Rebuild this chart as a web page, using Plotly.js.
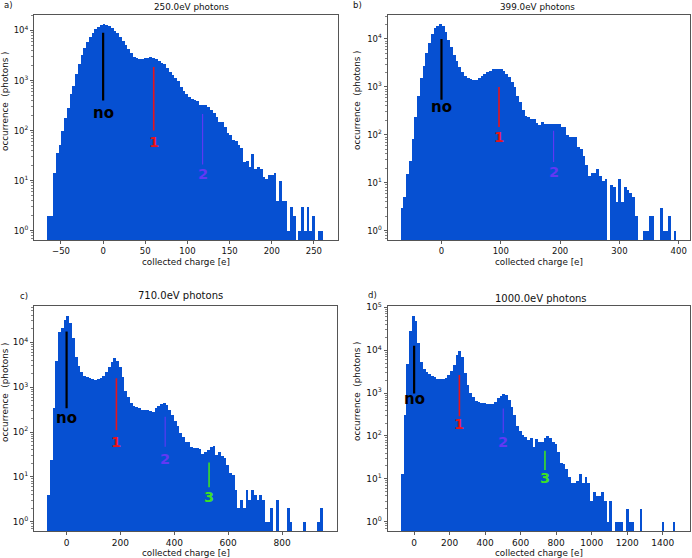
<!DOCTYPE html>
<html><head><meta charset="utf-8">
<script src="https://cdn.plot.ly/plotly-3.0.1.min.js"></script>
<style>html,body{margin:0;padding:0;background:#fff}#chart{width:692px;height:558px}</style>
</head><body><div id="chart"></div>
<script>
// ---------------- data ----------------
const titles = ["250.0eV photons", "399.0eV photons", "710.0eV photons", "1000.0eV photons"];
const panelLetters = ["a)", "b)", "c)", "d)"];
const xLabel = "collected charge [e]";
const yLabel = "occurrence\u00a0\u00a0(photons\u00a0)";

// histogram bins: first bin left edge and bin width (100 bins each)
const binStart = [-66, -69, -72, -75];
const binWidth = [3.27, 4.65, 10.23, 15.46];

const countsA = [2, 2, 14, 35, 52, 100, 178, 282, 540, 776,
  1350, 2140, 3240, 4570, 6030, 7590, 9120, 10700, 12000, 12900,
  13500, 12900, 12300, 11200, 10000, 8900, 7590, 6170, 5130, 4270,
  3630, 3020, 2820, 2690, 2690, 2820, 2880, 2950, 2880, 2690,
  2510, 2290, 2140, 1780, 1510, 1290, 1120, 1000, 760, 630,
  530, 468, 427, 407, 398, 324, 331, 331, 302, 257,
  229, 191, 151, 148, 120, 91, 81, 65, 62, 51,
  45, 24, 25, 19, 34, 17, 19, 17, 12, 11,
  13, 13, 14, 4, 10, 4, 4, 1, 3, 2,
  0, 1, 3, 1, 3, 1, 2, 0, 1, 1];

const countsB = [3, 5, 15, 29, 81, 234, 650, 1510, 2750, 5000,
  8130, 12900, 16600, 19000, 20400, 18200, 14100, 9550, 6760, 4680,
  3390, 2570, 2090, 1700, 1510, 1440, 1410, 1410, 1510, 1660,
  1860, 2040, 2190, 2340, 2340, 2400, 2340, 2190, 1860, 1580,
  1290, 1000, 650, 490, 331, 245, 234, 219, 209, 174,
  162, 182, 171, 168, 170, 169, 172, 170, 148, 145,
  98, 91, 91, 89, 57, 50, 36, 24, 14, 16,
  16, 19, 14, 11, 12, 0, 9, 8, 4, 12,
  4, 8, 7, 6, 5, 2, 0, 0, 1, 1,
  2, 2, 0, 0, 3, 1, 1, 2, 0, 1];

const countsC = [4, 24, 350, 3900, 17000, 21000, 31500, 39000, 27600, 12300,
  4800, 2950, 2220, 1790, 1660, 1590, 1490, 1480, 1490, 1590,
  1790, 2220, 2880, 3700, 4370, 3900, 2880, 1700, 830, 590,
  436, 380, 363, 339, 309, 309, 316, 295, 282, 339,
  380, 417, 447, 398, 309, 240, 180, 135, 93, 78,
  61, 61, 47, 45, 45, 41, 33, 36, 40, 47,
  49, 31, 35, 29, 26, 18, 12, 11, 5, 2,
  3, 2, 5, 3, 5, 4, 3, 4, 3, 1,
  1, 2, 0, 3, 0, 0, 0, 2, 1, 0,
  0, 0, 0, 1, 0, 0, 0, 0, 1, 2];

const countsD = [13, 300, 4800, 28000, 63000, 49000, 14400, 5400, 3700, 3100,
  2750, 2500, 2350, 2140, 2100, 2100, 2200, 2600, 3300, 4500,
  7700, 9500, 7000, 2900, 1550, 1030, 830, 660, 630, 600,
  575, 550, 545, 552, 630, 760, 870, 940, 910, 690,
  480, 300, 170, 132, 105, 96, 81, 88, 56, 83,
  73, 73, 90, 98, 90, 73, 65, 43, 23, 22,
  17, 11, 8, 8, 9, 13, 8, 11, 8, 3,
  5, 4, 4, 5, 3, 1, 3, 0, 1, 1,
  1, 0, 2, 1, 1, 0, 0, 2, 0, 0,
  0, 0, 0, 0, 0, 1, 0, 0, 0, 1];

const allCounts = [countsA, countsB, countsC, countsD];

// tick labels
const xTicks = [[-50, 0, 50, 100, 150, 200, 250], [0, 100, 200, 300, 400],
                [0, 200, 400, 600, 800], [0, 200, 400, 600, 800, 1000, 1200, 1400]];
const yDecades = [[0, 1, 2, 3, 4], [0, 1, 2, 3, 4], [0, 1, 2, 3, 4], [0, 1, 2, 3, 4, 5]];

// peak markers: label, position, line span, label height
const peakNames = ["no", "1", "2", "3"];
const peakX    = [[0, 60, 118], [0, 97, 189], [0, 185, 366, 529], [0, 255, 502, 737]];
const peakLo   = [[400, 100, 21], [537, 145, 27], [339, 110, 47, 5.9], [977, 288, 117, 16]];
const peakHi   = [[9000, 1860, 215], [10000, 1000, 122], [17400, 1580, 219, 21], [12600, 2630, 436, 45]];
const peakTxtY = [[224, 60, 13.5], [380, 91, 17], [204, 60, 24.5, 3.5], [708, 190, 71, 10.2]];

// ---------------- style / layout ----------------
const W = 692, H = 558;
const BAR = '#0650d2';
const peakColors = ['#000000', '#e8141a', '#6238f4', '#3ee026'];
const peakWidths = [2.2, 1.6, 1.1, 1.6];
const FONT = 'DejaVu Sans, sans-serif';

// plot boxes in pixels [left, right, top, bottom]
const boxes = [[34, 337.5, 14.5, 240], [387.5, 690, 14.5, 240],
               [34, 337, 306, 531], [387.5, 690, 306, 531]];
const xRanges = [[-82, 278], [-91, 419], [-121, 1004], [-150, 1554]];
const yRanges = [[-0.186, 4.32], [-0.194, 4.51], [-0.207, 4.81], [-0.217, 5.03]];
const titlePos = [[192, 6.5], [537, 6.5], [180, 295], [541, 298]];
const titleSize = [8.8, 8.8, 10, 10];
const letterPos = [[8, 5], [357, 5], [24, 296], [372, 295]];
const yLabelPos = [[5, 101], [357, 100], [5, 392], [357, 391]];
const xLabelY = [262, 262, 553, 553];
const tickSize = [8.5, 8.5, 9, 9];

const px = v => v / W;
const py = v => 1 - v / H;

const traces = [];
const annotations = [];
const layout = {
  width: W, height: H,
  margin: {l: 0, r: 0, t: 0, b: 0},
  paper_bgcolor: '#fff', plot_bgcolor: '#fff',
  showlegend: false,
  bargap: 0,
  font: {family: FONT, color: '#111'},
  annotations: annotations
};

for (let p = 0; p < 4; p++) {
  const sfx = p === 0 ? '' : String(p + 1);
  const xa = 'x' + sfx, ya = 'y' + sfx;
  const counts = allCounts[p];
  const centers = counts.map((_, i) => binStart[p] + binWidth[p] * (i + 0.5));
  traces.push({
    type: 'bar', x: centers, y: counts.map(c => c > 0 ? c : null),
    width: binWidth[p], xaxis: xa, yaxis: ya,
    marker: {color: BAR, line: {width: 0}}, hoverinfo: 'skip'
  });
  for (let k = 0; k < peakX[p].length; k++) {
    traces.push({
      type: 'scatter', mode: 'lines', x: [peakX[p][k], peakX[p][k]],
      y: [peakLo[p][k], peakHi[p][k]], xaxis: xa, yaxis: ya,
      line: {color: peakColors[k], width: peakWidths[k]}, hoverinfo: 'skip'
    });
    annotations.push({
      xref: xa, yref: ya, x: peakX[p][k], y: Math.log10(peakTxtY[p][k]),
      text: '<b>' + peakNames[k] + '</b>', showarrow: false,
      font: {family: FONT, size: k === 0 ? 15 : 14.5, color: peakColors[k]}
    });
  }
  const b = boxes[p];
  const minorVals = [];
  yDecades[p].forEach(d => { for (let m = 2; m <= 9; m++) { const v = m * Math.pow(10, d); if (Math.log10(v) < yRanges[p][1]) minorVals.push(v); } });
  minorVals.push(0.7, 0.8, 0.9);
  layout['xaxis' + sfx] = {
    domain: [px(b[0]), px(b[1])], anchor: ya, range: xRanges[p],
    tickmode: 'array', tickvals: xTicks[p],
    ticktext: xTicks[p].map(v => v < 0 ? '\u2212' + Math.abs(v) : String(v)),
    ticks: 'outside', ticklen: 3, tickwidth: 0.8, tickcolor: '#333',
    showline: true, linecolor: '#555', linewidth: 1, mirror: true,
    showgrid: false, zeroline: false,
    tickfont: {family: FONT, size: tickSize[p], color: '#111'}
  };
  layout['yaxis' + sfx] = {
    type: 'log', domain: [py(b[3]), py(b[2])], anchor: xa, range: yRanges[p],
    tickmode: 'array', tickvals: yDecades[p].map(d => Math.pow(10, d)),
    ticktext: yDecades[p].map(d => '10<sup>' + d + '</sup>'),
    ticks: 'outside', ticklen: 3, tickwidth: 0.8, tickcolor: '#333',
    minor: {tickmode: 'array', tickvals: minorVals, ticks: 'outside', ticklen: 1.8, tickwidth: 0.6, tickcolor: '#333', showgrid: false},
    showline: true, linecolor: '#555', linewidth: 1, mirror: true,
    showgrid: false, zeroline: false,
    tickfont: {family: FONT, size: tickSize[p], color: '#111'}
  };
  // title
  annotations.push({xref: 'paper', yref: 'paper', x: px(titlePos[p][0]), y: py(titlePos[p][1]),
    text: titles[p], showarrow: false, xanchor: 'center', yanchor: 'middle',
    font: {family: FONT, size: titleSize[p], color: '#111'}});
  // panel letter
  annotations.push({xref: 'paper', yref: 'paper', x: px(letterPos[p][0]), y: py(letterPos[p][1]),
    text: panelLetters[p], showarrow: false, xanchor: 'center', yanchor: 'middle',
    font: {family: FONT, size: 8.5, color: '#111'}});
  // x label
  annotations.push({xref: 'paper', yref: 'paper', x: px((b[0] + b[1]) / 2), y: py(xLabelY[p]),
    text: xLabel, showarrow: false, xanchor: 'center', yanchor: 'middle',
    font: {family: FONT, size: 8.8, color: '#111'}});
  // y label
  annotations.push({xref: 'paper', yref: 'paper', x: px(yLabelPos[p][0]), y: py(yLabelPos[p][1]),
    text: yLabel, showarrow: false, textangle: -90, xanchor: 'center', yanchor: 'middle',
    font: {family: FONT, size: 8.8, color: '#111'}});
}

Plotly.newPlot('chart', traces, layout, {staticPlot: true, displayModeBar: false});
</script>
</body></html>
